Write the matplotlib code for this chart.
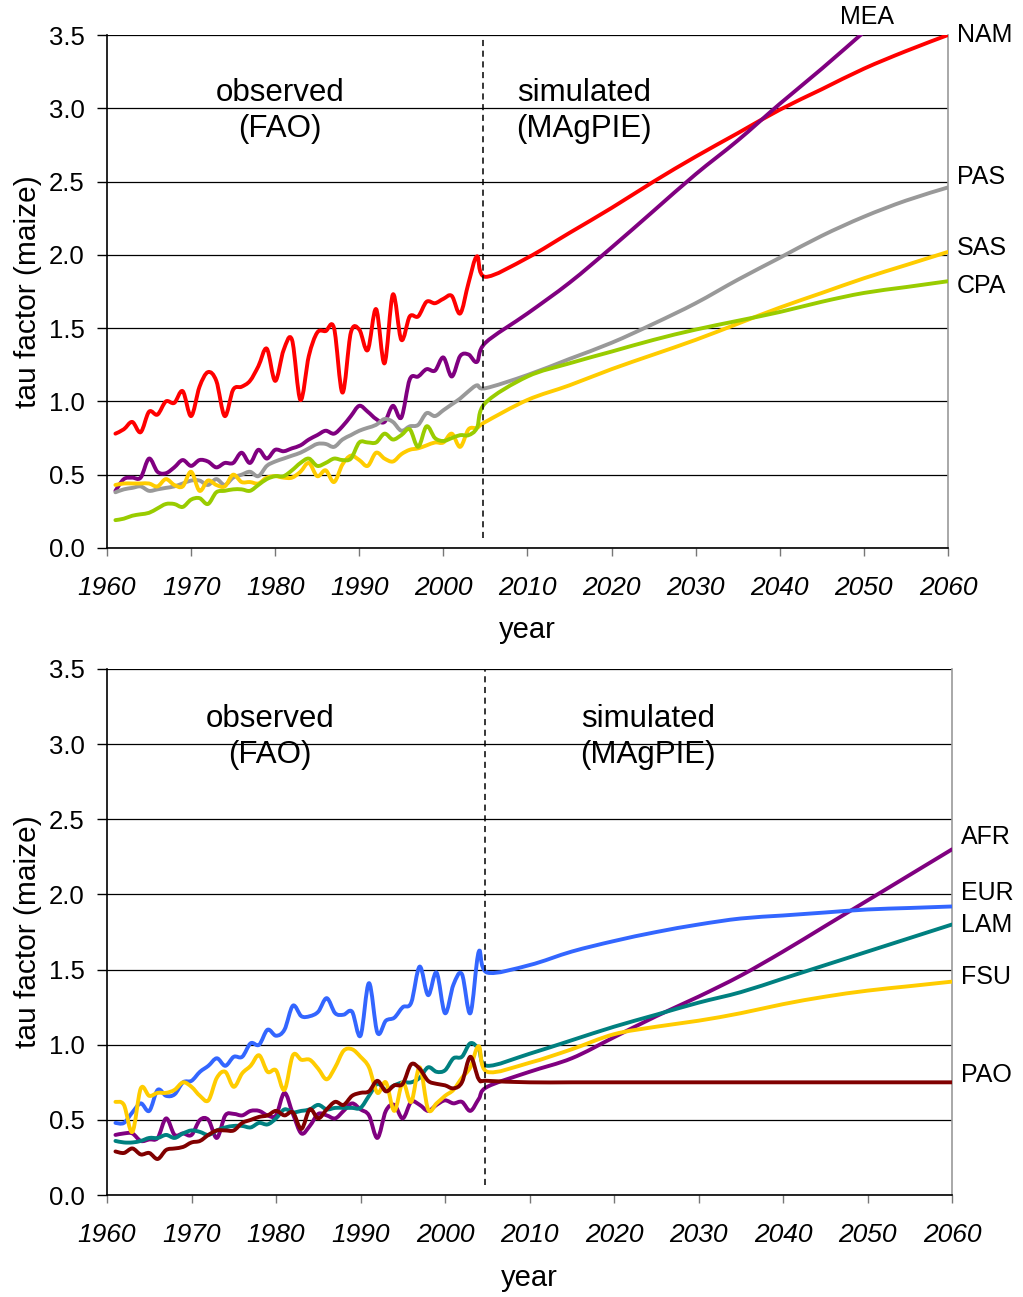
import numpy as np
import matplotlib
matplotlib.use("Agg")
import matplotlib.pyplot as plt
from matplotlib.path import Path
from matplotlib.patches import PathPatch

plt.rcParams['font.family'] = ['Liberation Sans', 'DejaVu Sans']

# observed years (FAO) and simulated years (MAgPIE)
obs_years = np.arange(1961, 2005)
sim_years = np.arange(2005, 2061, 5)
split_year = 2004.7

# ---- top panel: NAM, MEA, PAS, SAS, CPA ----
top_regions = ['NAM', 'MEA', 'PAS', 'SAS', 'CPA']
top_colors = ['#ff0000', '#800080', '#999999', '#ffcc00', '#99cc00']

nam_obs = [0.78, 0.81, 0.86, 0.79, 0.93, 0.91, 1.00, 0.99, 1.07, 0.90,
           1.10, 1.20, 1.14, 0.90, 1.08, 1.10, 1.14, 1.24, 1.36, 1.14,
           1.35, 1.42, 1.01, 1.31, 1.47, 1.48, 1.50, 1.06, 1.47, 1.49,
           1.35, 1.63, 1.26, 1.73, 1.42, 1.58, 1.58, 1.68, 1.67, 1.70,
           1.72, 1.60, 1.81, 1.99]
mea_obs = [0.39, 0.47, 0.48, 0.48, 0.61, 0.52, 0.51, 0.55, 0.60, 0.56,
           0.60, 0.59, 0.55, 0.58, 0.58, 0.65, 0.58, 0.67, 0.61, 0.67,
           0.66, 0.68, 0.70, 0.74, 0.77, 0.80, 0.78, 0.83, 0.90, 0.97,
           0.93, 0.88, 0.86, 0.97, 0.89, 1.15, 1.17, 1.22, 1.21, 1.30,
           1.17, 1.31, 1.32, 1.27]
pas_obs = [0.38, 0.40, 0.41, 0.42, 0.39, 0.40, 0.41, 0.42, 0.44, 0.46,
           0.46, 0.43, 0.47, 0.43, 0.48, 0.50, 0.52, 0.49, 0.56, 0.59,
           0.61, 0.63, 0.65, 0.68, 0.71, 0.71, 0.69, 0.74, 0.77, 0.80,
           0.82, 0.84, 0.88, 0.86, 0.80, 0.83, 0.84, 0.92, 0.90, 0.94,
           0.98, 1.02, 1.07, 1.11]
sas_obs = [0.43, 0.44, 0.44, 0.44, 0.44, 0.42, 0.47, 0.43, 0.42, 0.52,
           0.39, 0.46, 0.43, 0.42, 0.50, 0.45, 0.45, 0.44, 0.48, 0.49,
           0.48, 0.48, 0.52, 0.58, 0.49, 0.53, 0.45, 0.57, 0.63, 0.60,
           0.56, 0.65, 0.61, 0.59, 0.64, 0.67, 0.68, 0.70, 0.72, 0.72,
           0.78, 0.69, 0.81, 0.82]
cpa_obs = [0.19, 0.20, 0.22, 0.23, 0.24, 0.27, 0.30, 0.30, 0.28, 0.33,
           0.34, 0.30, 0.38, 0.39, 0.40, 0.40, 0.39, 0.43, 0.47, 0.49,
           0.49, 0.53, 0.58, 0.61, 0.56, 0.58, 0.61, 0.60, 0.61, 0.72,
           0.72, 0.72, 0.78, 0.74, 0.77, 0.81, 0.69, 0.83, 0.75, 0.73,
           0.75, 0.77, 0.77, 0.82]

nam_sim = [1.85, 1.98, 2.15, 2.32, 2.50, 2.67, 2.83, 2.99, 3.13, 3.27, 3.39, 3.50]
mea_sim = [1.40, 1.60, 1.81, 2.05, 2.30, 2.55, 2.78, 3.03, 3.27, 3.52, np.nan, np.nan]
pas_sim = [1.09, 1.18, 1.29, 1.40, 1.53, 1.67, 1.83, 1.98, 2.13, 2.26, 2.37, 2.46]
sas_sim = [0.86, 1.01, 1.11, 1.22, 1.32, 1.42, 1.53, 1.64, 1.74, 1.84, 1.93, 2.02]
cpa_sim = [0.99, 1.17, 1.26, 1.34, 1.42, 1.49, 1.55, 1.61, 1.68, 1.74, 1.78, 1.82]

top_obs = [nam_obs, mea_obs, pas_obs, sas_obs, cpa_obs]
top_sim = [nam_sim, mea_sim, pas_sim, sas_sim, cpa_sim]

# ---- bottom panel: AFR, EUR, LAM, FSU, PAO ----
bot_regions = ['AFR', 'EUR', 'LAM', 'FSU', 'PAO']
bot_colors = ['#800080', '#3366ff', '#008080', '#ffcc00', '#800000']

afr_obs = [0.40, 0.41, 0.41, 0.36, 0.37, 0.38, 0.51, 0.40, 0.41, 0.40,
           0.50, 0.50, 0.38, 0.53, 0.54, 0.53, 0.56, 0.56, 0.53, 0.53,
           0.68, 0.54, 0.41, 0.46, 0.54, 0.53, 0.51, 0.56, 0.61, 0.57,
           0.53, 0.38, 0.56, 0.60, 0.51, 0.62, 0.60, 0.56, 0.60, 0.63,
           0.61, 0.62, 0.56, 0.64]
eur_obs = [0.48, 0.48, 0.55, 0.61, 0.56, 0.70, 0.66, 0.67, 0.75, 0.76,
           0.82, 0.86, 0.91, 0.86, 0.92, 0.92, 1.01, 1.00, 1.10, 1.06,
           1.10, 1.26, 1.19, 1.19, 1.22, 1.31, 1.21, 1.20, 1.22, 1.06,
           1.41, 1.08, 1.16, 1.18, 1.25, 1.28, 1.52, 1.33, 1.48, 1.21,
           1.40, 1.47, 1.21, 1.62]
lam_obs = [0.36, 0.35, 0.35, 0.36, 0.38, 0.38, 0.40, 0.38, 0.41, 0.43,
           0.42, 0.40, 0.43, 0.45, 0.46, 0.46, 0.45, 0.48, 0.47, 0.51,
           0.57, 0.55, 0.56, 0.57, 0.60, 0.57, 0.58, 0.58, 0.58, 0.58,
           0.66, 0.74, 0.70, 0.73, 0.75, 0.75, 0.78, 0.85, 0.82, 0.83,
           0.91, 0.92, 1.01, 0.97]
fsu_obs = [0.62, 0.60, 0.42, 0.71, 0.66, 0.68, 0.68, 0.70, 0.75, 0.72,
           0.66, 0.63, 0.78, 0.82, 0.72, 0.81, 0.86, 0.93, 0.82, 0.83,
           0.70, 0.93, 0.90, 0.90, 0.84, 0.77, 0.85, 0.96, 0.97, 0.92,
           0.85, 0.68, 0.75, 0.56, 0.75, 0.62, 0.85, 0.57, 0.61, 0.66,
           0.70, 0.78, 0.85, 0.99]
pao_obs = [0.29, 0.28, 0.31, 0.27, 0.28, 0.24, 0.30, 0.31, 0.32, 0.35,
           0.36, 0.40, 0.43, 0.43, 0.43, 0.48, 0.50, 0.52, 0.53, 0.56,
           0.53, 0.55, 0.44, 0.57, 0.51, 0.57, 0.62, 0.60, 0.66, 0.68,
           0.69, 0.76, 0.69, 0.73, 0.74, 0.87, 0.84, 0.76, 0.74, 0.73,
           0.71, 0.75, 0.92, 0.77]

afr_sim = [0.72, 0.82, 0.91, 1.05, 1.19, 1.32, 1.46, 1.62, 1.79, 1.96, 2.13, 2.30]
eur_sim = [1.48, 1.53, 1.62, 1.69, 1.75, 1.80, 1.84, 1.86, 1.88, 1.90, 1.91, 1.92]
lam_sim = [0.86, 0.94, 1.03, 1.12, 1.20, 1.28, 1.35, 1.44, 1.53, 1.62, 1.71, 1.80]
fsu_sim = [0.82, 0.88, 0.97, 1.07, 1.12, 1.16, 1.21, 1.27, 1.32, 1.36, 1.39, 1.42]
pao_sim = [0.76, 0.75, 0.75, 0.75, 0.75, 0.75, 0.75, 0.75, 0.75, 0.75, 0.75, 0.75]

bot_obs = [afr_obs, eur_obs, lam_obs, fsu_obs, pao_obs]
bot_sim = [afr_sim, eur_sim, lam_sim, fsu_sim, pao_sim]

# label heights at the right edge (value axis)
top_label_y = [3.50, 3.62, 2.53, 2.05, 1.79]
bot_label_y = [2.38, 2.01, 1.80, 1.45, 0.80]


def smooth_line(ax, x, y, **kw):
    # spreadsheet-style smoothed line: bezier segments through the data points
    ok = ~np.isnan(y)
    x, y = x[ok], y[ok]
    pts = np.column_stack([x, y])
    verts = [pts[0]]
    codes = [Path.MOVETO]
    n = len(pts)
    for i in range(n - 1):
        p0 = pts[max(i - 1, 0)]
        p1 = pts[i]
        p2 = pts[i + 1]
        p3 = pts[min(i + 2, n - 1)]
        verts += [p1 + (p2 - p0) / 6.0, p2 - (p3 - p1) / 6.0, p2]
        codes += [Path.CURVE4] * 3
    patch = PathPatch(Path(verts, codes), fill=False, **kw)
    ax.add_patch(patch)


def draw_panel(ax, obs, sim, colors):
    years = np.concatenate([obs_years, sim_years]).astype(float)
    for o, s, c in zip(obs, sim, colors):
        vals = np.concatenate([o, s]).astype(float)
        smooth_line(ax, years, vals, edgecolor=c, lw=2.8,
                    joinstyle='round', capstyle='round', zorder=3)

    ax.axvline(split_year, ymin=0.02, ymax=1, color='black', ls=(0, (4, 3)), lw=1.1, zorder=4)

    ax.set_xlim(1960, 2060)
    ax.set_ylim(0, 3.5)
    ax.set_xticks(np.arange(1960, 2061, 10))
    ax.set_yticks(np.arange(0, 3.51, 0.5))
    ax.set_yticklabels(['%.1f' % v for v in np.arange(0, 3.51, 0.5)])
    ax.grid(axis='y', color='black', lw=0.9)
    ax.set_axisbelow(True)

    ax.spines['top'].set_visible(False)
    ax.spines['right'].set_color('#999999')
    ax.spines['right'].set_linewidth(1.2)
    ax.spines['left'].set_linewidth(1.2)
    ax.spines['bottom'].set_linewidth(1.2)

    ax.tick_params(axis='y', direction='out', length=7, width=1, pad=9, labelsize=18.5)
    ax.tick_params(axis='x', direction='out', length=6, width=1, color='#777777', pad=14, labelsize=19)
    for lbl in ax.get_xticklabels():
        lbl.set_fontstyle('italic')

    ax.set_xlabel('year', fontsize=21, labelpad=12)
    ax.set_ylabel('tau factor (maize)', fontsize=21.5, labelpad=5)


fig = plt.figure(figsize=(10.23, 12.97), dpi=100)

ax1 = fig.add_axes([0.1046, 0.5775, 0.822, 0.3955])
draw_panel(ax1, top_obs, top_sim, top_colors)
ax1.text(1980.6, 2.98, 'observed\n(FAO)', fontsize=22.5, ha='center', va='center', linespacing=1.25)
ax1.text(2016.7, 2.98, 'simulated\n(MAgPIE)', fontsize=22.5, ha='center', va='center', linespacing=1.25)
for name, y in zip(top_regions, top_label_y):
    if name == 'MEA':
        ax1.text(2050.4, y, name, fontsize=18, ha='center', va='center', clip_on=False)
    else:
        ax1.text(2061.1, y, name, fontsize=18, ha='left', va='center', clip_on=False)

ax2 = fig.add_axes([0.1046, 0.0786, 0.826, 0.4056])
draw_panel(ax2, bot_obs, bot_sim, bot_colors)
ax2.text(1979.3, 3.05, 'observed\n(FAO)', fontsize=22.5, ha='center', va='center', linespacing=1.25)
ax2.text(2024.0, 3.05, 'simulated\n(MAgPIE)', fontsize=22.5, ha='center', va='center', linespacing=1.25)
for name, y in zip(bot_regions, bot_label_y):
    ax2.text(2061.1, y, name, fontsize=18, ha='left', va='center', clip_on=False)

fig.savefig('out.png', dpi=100)
